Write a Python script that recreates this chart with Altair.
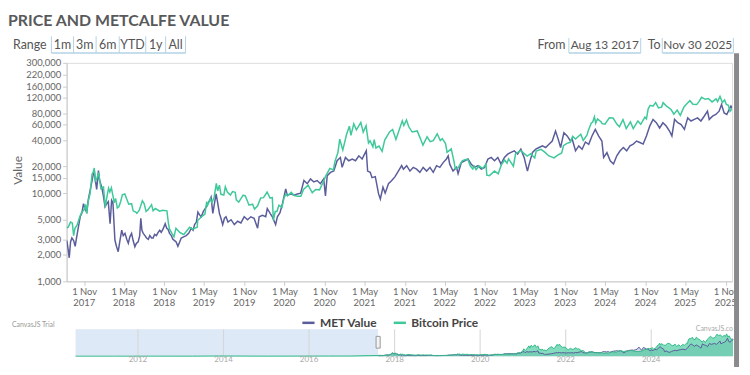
import altair as alt
import pandas as pd

# ---------------- data ----------------
btc_dates = [
    "2017-08-13","2017-08-20","2017-08-31","2017-09-08","2017-09-14","2017-09-20","2017-09-30","2017-10-12","2017-10-20","2017-10-31",
    "2017-11-08","2017-11-12","2017-11-19","2017-11-28","2017-12-07","2017-12-12","2017-12-17","2017-12-22","2017-12-28","2018-01-06",
    "2018-01-16","2018-01-21","2018-01-28","2018-02-05","2018-02-12","2018-02-20","2018-02-26","2018-03-05","2018-03-18","2018-03-24",
    "2018-04-01","2018-04-08","2018-04-16","2018-04-24","2018-05-05","2018-05-13","2018-05-23","2018-06-05","2018-06-12","2018-06-24",
    "2018-06-29","2018-07-10","2018-07-24","2018-08-01","2018-08-10","2018-08-19","2018-09-04","2018-09-11","2018-09-21","2018-10-11",
    "2018-10-25","2018-11-13","2018-11-20","2018-11-25","2018-12-07","2018-12-15","2018-12-24","2019-01-10","2019-01-29","2019-02-08",
    "2019-02-24","2019-03-10","2019-03-31","2019-04-02","2019-04-23","2019-05-05","2019-05-13","2019-05-17","2019-05-30","2019-06-06",
    "2019-06-16","2019-06-26","2019-07-02","2019-07-10","2019-07-17","2019-07-30","2019-08-06","2019-08-15","2019-08-29","2019-09-08",
    "2019-09-20","2019-09-25","2019-10-06","2019-10-26","2019-11-05","2019-11-22","2019-12-08","2019-12-17","2019-12-31","2020-01-14",
    "2020-01-27","2020-02-12","2020-02-26","2020-03-07","2020-03-12","2020-03-20","2020-03-28","2020-04-06","2020-04-20","2020-04-29",
    "2020-05-08","2020-05-15","2020-06-01","2020-06-15","2020-07-01","2020-07-15","2020-07-27","2020-08-17","2020-09-05","2020-09-20",
    "2020-10-08","2020-10-21","2020-11-05","2020-11-24","2020-12-10","2020-12-17","2020-12-31","2021-01-08","2021-01-22","2021-02-08",
    "2021-02-21","2021-02-28","2021-03-13","2021-03-25","2021-04-14","2021-04-25","2021-05-08","2021-05-19","2021-05-26","2021-06-08",
    "2021-06-14","2021-06-22","2021-07-06","2021-07-20","2021-08-01","2021-08-23","2021-09-06","2021-09-21","2021-10-01","2021-10-20",
    "2021-10-27","2021-11-08","2021-11-18","2021-12-04","2021-12-27","2022-01-10","2022-01-22","2022-02-10","2022-02-24","2022-03-10",
    "2022-03-28","2022-04-11","2022-04-20","2022-05-05","2022-05-12","2022-05-31","2022-06-13","2022-06-18","2022-07-01","2022-07-20",
    "2022-07-29","2022-08-14","2022-08-26","2022-09-06","2022-09-13","2022-09-21","2022-10-05","2022-10-21","2022-11-05","2022-11-09",
    "2022-11-21","2022-12-14","2022-12-31","2023-01-14","2023-01-29","2023-02-09","2023-02-16","2023-03-10","2023-03-20","2023-04-13",
    "2023-04-26","2023-05-12","2023-05-28","2023-06-15","2023-06-22","2023-07-14","2023-07-31","2023-08-17","2023-09-11","2023-09-28",
    "2023-10-16","2023-10-24","2023-11-09","2023-11-24","2023-12-05","2023-12-18","2024-01-11","2024-01-22","2024-02-08","2024-02-15",
    "2024-02-28","2024-03-05","2024-03-13","2024-03-19","2024-03-27","2024-04-13","2024-04-17","2024-04-30","2024-05-20","2024-06-06",
    "2024-06-24","2024-07-05","2024-07-21","2024-08-05","2024-08-24","2024-09-06","2024-09-27","2024-10-10","2024-10-29","2024-11-05",
    "2024-11-13","2024-11-22","2024-12-05","2024-12-17","2024-12-30","2025-01-13","2025-01-20","2025-02-03","2025-02-25","2025-03-10",
    "2025-03-25","2025-04-08","2025-04-25","2025-05-08","2025-05-22","2025-06-05","2025-06-22","2025-07-03","2025-07-14","2025-07-31",
    "2025-08-14","2025-08-31","2025-09-18","2025-09-25","2025-10-06","2025-10-17","2025-10-27","2025-11-04","2025-11-13","2025-11-21",
    "2025-11-30",
]
btc_values = [
    4050,4100,4700,4600,3300,4000,4350,5400,6000,6450,
    7450,5900,8000,9900,16500,17200,19300,13800,14500,17100,
    11300,11600,11750,6950,8900,11400,10300,11500,7800,8700,
    6800,7000,8000,9600,9800,8700,7500,7600,6300,6100,
    5900,6400,8200,7600,6200,6500,7400,6300,6700,6250,
    6400,6300,4500,3900,3450,3200,4000,3600,3400,3650,
    4100,3900,4100,4900,5500,5800,8000,7300,8650,7800,
    9000,12900,10600,12300,9700,9500,11800,10300,9500,10400,
    10200,8400,7900,9500,9300,7300,7500,6600,7200,8800,
    8900,10300,8800,8900,4900,6200,6200,7300,6900,8800,
    9800,9300,10200,9400,9200,9200,11000,12300,10100,11000,
    10900,12800,15600,19100,18300,22800,29000,41000,30800,46200,
    57500,45200,61200,52300,63500,49000,58000,37000,39300,33500,
    40500,32500,34200,29800,39900,49500,52700,40600,48100,66000,
    58500,67500,56900,49300,50700,41800,35000,43600,38300,39400,
    47100,39500,41500,36500,29000,31800,22500,19000,19300,23200,
    23800,24300,20300,18800,20200,18500,20300,19100,21300,16000,
    15800,17800,16550,20900,23700,21800,24500,20200,28000,30400,
    28400,26300,28000,25100,30000,31400,29200,26600,25100,27000,
    28500,34500,36700,37700,44100,41000,46600,39500,45300,51900,
    62500,63800,73100,62000,69500,64000,61300,60600,71400,71100,
    60300,56700,68200,54000,64200,53900,65800,60300,72700,69400,
    90400,98900,97000,106100,92600,94500,106100,97700,88700,78500,
    87500,76300,94700,103000,111700,101600,100900,109600,121900,115800,
    118300,108200,117100,109000,124700,106500,114100,101300,99000,84500,
    91000,
]

met_dates = [
    "2017-08-14","2017-08-20","2017-08-25","2017-08-31","2017-09-06","2017-09-14","2017-09-21","2017-09-28","2017-10-07","2017-10-14",
    "2017-10-22","2017-10-29","2017-11-06","2017-11-13","2017-11-20","2017-11-28","2017-12-06","2017-12-13","2017-12-17","2017-12-21",
    "2017-12-28","2018-01-05","2018-01-10","2018-01-20","2018-01-27","2018-02-04","2018-02-12","2018-02-19","2018-02-27","2018-03-06",
    "2018-03-12","2018-03-21","2018-03-28","2018-04-05","2018-04-13","2018-04-21","2018-04-28","2018-05-06","2018-05-14","2018-05-21",
    "2018-05-28","2018-06-05","2018-06-12","2018-06-20","2018-06-27","2018-07-05","2018-07-12","2018-07-17","2018-07-22","2018-07-28",
    "2018-08-05","2018-08-12","2018-08-20","2018-08-27","2018-09-04","2018-09-11","2018-09-18","2018-09-26","2018-10-04","2018-10-11",
    "2018-10-18","2018-10-26","2018-11-05","2018-11-12","2018-11-18","2018-11-25","2018-12-03","2018-12-10","2018-12-18","2018-12-25",
    "2019-01-02","2019-01-10","2019-01-17","2019-01-28","2019-02-09","2019-02-20","2019-03-04","2019-03-12","2019-03-19","2019-03-27",
    "2019-04-03","2019-04-10","2019-04-18","2019-04-28","2019-05-10","2019-05-18","2019-05-26","2019-06-02","2019-06-10","2019-06-17",
    "2019-06-25","2019-07-02","2019-07-10","2019-07-17","2019-07-25","2019-08-02","2019-08-09","2019-08-18","2019-09-01","2019-09-16",
    "2019-10-01","2019-10-16","2019-10-31","2019-11-15","2019-11-30","2019-12-15","2019-12-31","2020-01-07","2020-01-22","2020-02-06",
    "2020-02-13","2020-02-26","2020-03-07","2020-03-22","2020-03-30","2020-04-11","2020-04-22","2020-05-07","2020-05-14","2020-05-30",
    "2020-06-14","2020-06-29","2020-07-14","2020-07-29","2020-08-13","2020-08-28","2020-09-12","2020-09-27","2020-10-12","2020-10-27",
    "2020-11-04","2020-11-12","2020-11-27","2020-12-12","2020-12-27","2021-01-11","2021-01-19","2021-02-03","2021-02-18","2021-03-06",
    "2021-03-21","2021-04-05","2021-04-20","2021-04-27","2021-05-09","2021-05-15","2021-05-27","2021-06-04","2021-06-19","2021-07-04",
    "2021-07-12","2021-07-24","2021-08-03","2021-08-18","2021-09-02","2021-09-17","2021-10-02","2021-10-17","2021-10-25","2021-11-09",
    "2021-11-24","2021-12-09","2021-12-24","2022-01-08","2022-01-23","2022-02-08","2022-02-23","2022-03-10","2022-03-25","2022-04-09",
    "2022-04-24","2022-05-09","2022-05-17","2022-05-24","2022-06-08","2022-06-24","2022-07-01","2022-07-16","2022-07-31","2022-08-15",
    "2022-08-30","2022-09-14","2022-09-30","2022-10-15","2022-10-30","2022-11-14","2022-11-29","2022-12-14","2022-12-29","2023-01-13",
    "2023-01-28","2023-02-12","2023-02-27","2023-03-14","2023-03-29","2023-04-13","2023-04-28","2023-05-13","2023-05-21","2023-06-05",
    "2023-06-20","2023-07-05","2023-07-20","2023-08-04","2023-08-19","2023-09-03","2023-09-18","2023-09-30","2023-10-11","2023-10-26",
    "2023-11-10","2023-11-25","2023-12-03","2023-12-18","2024-01-02","2024-01-17","2024-02-01","2024-02-16","2024-03-02","2024-03-17",
    "2024-04-01","2024-04-16","2024-04-24","2024-05-09","2024-05-24","2024-06-08","2024-06-23","2024-07-08","2024-07-23","2024-08-07",
    "2024-08-22","2024-09-06","2024-09-21","2024-10-06","2024-10-21","2024-11-05","2024-11-20","2024-12-05","2024-12-20","2025-01-04",
    "2025-01-19","2025-02-03","2025-02-18","2025-03-01","2025-03-13","2025-03-28","2025-04-12","2025-04-27","2025-05-12","2025-05-27",
    "2025-06-11","2025-06-26","2025-07-11","2025-07-26","2025-08-10","2025-08-18","2025-09-02","2025-09-17","2025-10-02","2025-10-13",
    "2025-10-25","2025-11-06","2025-11-17","2025-11-25","2025-11-30",
]
met_values = [
    2900,2300,1850,2800,3100,2900,2500,3200,4300,5400,
    6000,7600,6500,6100,8500,10700,13500,16500,18000,14500,
    11000,18000,14000,11700,9500,7000,7600,8000,4500,8300,
    7800,2940,2500,2170,2900,3800,3300,3500,3000,2700,
    3200,3500,2900,2470,2700,2800,3300,5200,3800,3500,
    3300,3100,3000,3300,3100,3100,3400,3300,3600,3800,
    3600,3900,4500,4000,3900,3500,3300,3000,2900,2800,
    2500,2800,3100,3200,3300,3500,4000,3800,4400,4700,
    6100,5700,5400,6200,6900,7600,8200,9000,5900,7500,
    9800,7800,5900,5200,4400,5200,5400,4700,5000,4400,
    4800,4600,5400,5000,5400,5200,4000,5400,5600,5400,
    6700,5900,5400,4400,5400,6000,7600,11200,9500,9800,
    9500,9800,10000,13900,12800,14500,13400,13900,12800,14500,
    9300,15800,17200,17800,23300,25400,19600,25400,23300,24400,
    23300,26500,24400,26500,30200,17800,17200,15000,15400,9800,
    8600,11700,10000,12800,13900,15400,17800,20500,18700,20500,
    17800,19600,18700,17200,19600,17800,19600,17200,20500,19600,
    22200,24400,26500,21300,17800,19600,16600,22200,23300,24400,
    21300,19600,20500,18700,19600,24400,25400,23300,25400,21300,
    25400,27700,29000,30200,27700,31500,25400,17800,21300,29000,
    31500,32900,34300,32900,35800,39000,50600,41000,32900,48500,
    44500,39000,40800,30200,34300,31500,38000,35800,44500,52900,
    44500,39000,25400,28800,23300,21400,26500,30200,32900,30200,
    34300,36000,39000,37500,36000,44500,57600,68500,63000,54800,
    62800,57600,50600,44500,68500,62800,60000,52900,71400,65700,
    68500,71400,65700,74500,85000,68500,74500,78000,85000,101000,
    81000,78000,89000,97000,92000,
]

# early Bitcoin history, only visible (flat) in the navigator
btc_early_dates = ["2010-07-17","2011-06-08","2011-11-18","2013-04-10","2013-11-30","2015-01-14","2016-06-17","2017-01-01","2017-06-11","2017-08-12"]
btc_early_values = [0.05,30,2,230,1150,180,750,1000,2950,3900]

series_names = ["MET Value", "Bitcoin Price"]
y_ticks = [1000,2000,3000,5000,10000,15000,20000,40000,60000,80000,120000,160000,220000,300000]
x_tick_months = [(2017,11)] + [(y, m) for y in range(2018, 2026) for m in (5, 11)]
nav_years = ["2012","2014","2016","2018","2020","2022","2024"]
range_buttons = ["1m","3m","6m","YTD","1y","All"]
from_date, to_date = "Aug 13 2017", "Nov 30 2025"
title_text = "PRICE AND METCALFE VALUE"

# ---------------- styles ----------------
PURPLE = "#5b5d9b"
GREEN = "#3fc99a"
FONT = "Lato"
W, H = 670, 220


def iso(d):
    return d + "T00:00:00"


btc_df = pd.DataFrame({"date": [iso(d) for d in btc_dates], "value": btc_values, "series": "Bitcoin Price"})
met_df = pd.DataFrame({"date": [iso(d) for d in met_dates], "value": met_values, "series": "MET Value"})
btc_nav_df = pd.concat([
    pd.DataFrame({"date": [iso(d) for d in btc_early_dates], "value": btc_early_values}),
    btc_df[["date", "value"]],
], ignore_index=True)
tick_df = pd.DataFrame({
    "date": [iso(f"{y}-{m:02d}-01") for y, m in x_tick_months],
    "year": [str(y) for y, m in x_tick_months],
})

d_start = alt.DateTime(year=2017, month=8, date=13)
d_end = alt.DateTime(year=2025, month=11, date=30)
nav_start = alt.DateTime(year=2010, month=7, date=17)

color = alt.Color(
    "series:N",
    scale=alt.Scale(domain=series_names, range=[PURPLE, GREEN]),
    legend=alt.Legend(
        orient="none", legendX=236, legendY=254, direction="horizontal", title=None,
        symbolType="stroke", symbolStrokeWidth=2.5, symbolSize=150,
        labelFont=FONT, labelFontSize=12, labelFontWeight="bold", labelColor="#444",
        columnPadding=10, labelOffset=4,
    ),
)

x_main = alt.X(
    "date:T",
    scale=alt.Scale(domain=[d_start, d_end]),
    title=None,
    axis=alt.Axis(
        values=[alt.DateTime(year=y, month=m, date=1) for y, m in x_tick_months],
        labelExpr="timeFormat(datum.value, '%-d %b')",
        grid=False, labelFlush=False, labelOverlap=False,
        domainColor="#cccccc", tickColor="#cccccc", tickSize=4,
        labelColor="#666", labelFontSize=9.5, labelPadding=1, labelFont=FONT,
    ),
)
y_main = alt.Y(
    "value:Q",
    scale=alt.Scale(type="log", domain=[1000, 300000], nice=False),
    title=None,
    axis=alt.Axis(
        values=y_ticks, format=",", grid=False,
        domainColor="#cccccc", tickColor="#cccccc", tickSize=4,
        labelColor="#666", labelFontSize=9.5, labelPadding=2, labelFont=FONT,
    ),
)

met_line = alt.Chart(met_df).mark_line(strokeWidth=1.5, clip=True).encode(x=x_main, y=y_main, color=color)
btc_line = alt.Chart(btc_df).mark_line(strokeWidth=1.5, clip=True).encode(x=x_main, y=y_main, color=color)
year_labels = alt.Chart(tick_df).mark_text(fontSize=9.5, color="#666", font=FONT, baseline="middle").encode(
    x=alt.X("date:T"), y=alt.value(H + 22), text="year:N")
main = alt.layer(met_line, btc_line, year_labels)

# ---------------- navigator ----------------
NAV_TOP, NAV_BOT = 268.3, 295.3
x_nav_scale = alt.Scale(domain=[nav_start, d_end], range=[9, 671])
y_nav_scale = alt.Scale(domain=[0, 150000], range=[NAV_BOT, NAV_TOP], nice=False, zero=True)

shade = alt.Chart(pd.DataFrame({"start": [iso("2010-07-17")], "end": [iso("2017-08-13")]})).mark_rect(
    color="#dde9f6").encode(
    x=alt.X("start:T", scale=x_nav_scale, axis=None), x2="end:T",
    y=alt.value(NAV_TOP), y2=alt.value(NAV_BOT))

years_df = pd.DataFrame({"date": [iso(y + "-01-01") for y in nav_years], "label": nav_years})
grid = alt.Chart(years_df).mark_rule(color="#d5d5d5", strokeWidth=1).encode(
    x=alt.X("date:T", scale=x_nav_scale, axis=None), y=alt.value(NAV_TOP), y2=alt.value(NAV_BOT))
year_text = alt.Chart(years_df).mark_text(fontSize=8, color="#aaaaaa", font=FONT, baseline="middle").encode(
    x=alt.X("date:T", scale=x_nav_scale, axis=None), y=alt.value(NAV_BOT + 3.5), text="label:N")

met_area = alt.Chart(met_df).mark_area(color=PURPLE, opacity=0.25).encode(
    x=alt.X("date:T", scale=x_nav_scale, axis=None), y=alt.Y("value:Q", scale=y_nav_scale, axis=None))
btc_area = alt.Chart(btc_nav_df).mark_area(color=GREEN, opacity=0.65).encode(
    x=alt.X("date:T", scale=x_nav_scale, axis=None), y=alt.Y("value:Q", scale=y_nav_scale, axis=None))
met_nav_line = alt.Chart(met_df).mark_line(color=PURPLE, strokeWidth=1).encode(
    x=alt.X("date:T", scale=x_nav_scale, axis=None), y=alt.Y("value:Q", scale=y_nav_scale, axis=None))
btc_nav_line = alt.Chart(btc_nav_df).mark_line(color="#35b98a", strokeWidth=1).encode(
    x=alt.X("date:T", scale=x_nav_scale, axis=None), y=alt.Y("value:Q", scale=y_nav_scale, axis=None))
handle = alt.Chart(pd.DataFrame({"date": [iso("2017-08-13")]})).mark_point(
    shape="M-0.35,-1L0.35,-1L0.35,1L-0.35,1Z", size=140, filled=True,
    fill="#f3f3f3", stroke="#999999", strokeWidth=1, opacity=1).encode(
    x=alt.X("date:T", scale=x_nav_scale, axis=None), y=alt.value(281.3))

nav = alt.layer(shade, grid, met_area, btc_area, met_nav_line, btc_nav_line, year_text, handle)

# ---------------- decorations (page furniture) ----------------
ONE = pd.DataFrame({"k": [0]})


def text(s, x, y, size=12, color="#555", align="left", weight="normal", angle=0, baseline="middle"):
    return alt.Chart(ONE).mark_text(
        fontSize=size, color=color, align=align, fontWeight=weight, font=FONT, angle=angle, baseline=baseline
    ).encode(x=alt.value(x), y=alt.value(y), text=alt.value(s))


def vrule(x, y1, y2, color="#b3d3e5", width=1.0):
    return alt.Chart(ONE).mark_rule(color=color, strokeWidth=width).encode(
        x=alt.value(x), y=alt.value(y1), y2=alt.value(y2))


def hrule(x1, x2, y, color="#b3d3e5", width=1.5):
    return alt.Chart(ONE).mark_rule(color=color, strokeWidth=width).encode(
        x=alt.value(x1), x2=alt.value(x2), y=alt.value(y))


decor = []
decor.append(text(title_text, -59, -37.5, size=16, color="#58595b", weight="bold", baseline="alphabetic"))
decor.append(text("Range", -54, -18.3, size=12.5))
edges = [-15.3, 7, 29.7, 53, 79.7, 99.7, 119.7]
for e in edges:
    decor.append(vrule(e, -26.7, -10))
decor.append(hrule(edges[0], edges[-1], -10))
for i, b in enumerate(range_buttons):
    decor.append(text(b, (edges[i] + edges[i + 1]) / 2, -18.3, size=12.5, align="center"))

decor.append(text("From", 474, -17.5, size=12.5))
decor.append(text("To", 585, -17.5, size=12.5))
for a, b_, s in [(505.7, 578, from_date), (599.7, 671.3, to_date)]:
    decor.append(vrule(a, -25, -10))
    decor.append(vrule(b_, -25, -10))
    decor.append(hrule(a, b_, -10))
    decor.append(text(s, (a + b_) / 2, -17.5, size=12, align="center"))

decor.append(text("Value", -48.7, 108.3, size=12, color="#666", align="center", angle=270))
decor.append(text("CanvasJS Trial", -55, 263.5, size=7, color="#999"))
decor.append(text("CanvasJS.co", 671, 267.5, size=7, color="#aaa", align="right"))
decor.append(alt.Chart(ONE).mark_rect(color="#8a8a8a").encode(
    x=alt.value(672), x2=alt.value(677), y=alt.value(-9.7), y2=alt.value(320)))

chart = alt.layer(main, nav, *decor).resolve_scale(
    x="independent", y="independent"
).properties(
    width=W, height=H, autosize="none",
    padding={"left": 59, "top": 54, "right": 10, "bottom": 85},
).configure_view(stroke=None).configure(font=FONT)

chart.save("out.html", embed_options={"renderer": "svg", "actions": False})
